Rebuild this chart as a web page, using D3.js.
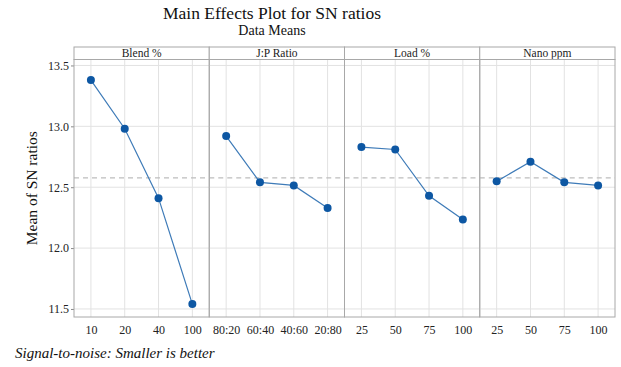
<!DOCTYPE html>
<html>
<head>
<meta charset="utf-8">
<script src="https://cdn.jsdelivr.net/npm/d3@7"></script>
<style>
  html, body { margin: 0; padding: 0; background: #fff; }
  svg { display: block; }
  svg text { font-family: "Liberation Serif", "DejaVu Serif", serif; }
</style>
</head>
<body>
<svg id="chart" width="621" height="367"></svg>
<script>
/* Minitab-style main effects plot for SN ratios, one panel per factor. */
const factors = ["Blend %", "J:P Ratio", "Load %", "Nano ppm"];
const levels = [
  ["10", "20", "40", "100"],
  ["80:20", "60:40", "40:60", "20:80"],
  ["25", "50", "75", "100"],
  ["25", "50", "75", "100"],
];
const snMeans = [
  [13.38, 12.98, 12.41, 11.54],
  [12.92, 12.54, 12.515, 12.33],
  [12.83, 12.81, 12.43, 12.235],
  [12.548, 12.71, 12.54, 12.515],
];
const grandMean = 12.576;
const yTicks = [11.5, 12.0, 12.5, 13.0, 13.5];

const svg = d3.select("#chart");
const padL = 74, padR = 615, stripTop = 47, stripH = 12.5, plotBottom = 317;
const plotTop = stripTop + stripH;
const panelW = (padR - padL) / factors.length;

const y = d3.scaleLinear().domain([11.434, 13.549]).range([plotBottom, plotTop]);

// titles
svg.append("text").attr("x", 272).attr("y", 19).attr("text-anchor", "middle")
  .attr("font-size", 17.5).attr("fill", "#111").text("Main Effects Plot for SN ratios");
svg.append("text").attr("x", 272).attr("y", 35).attr("text-anchor", "middle")
  .attr("font-size", 14).attr("fill", "#111").text("Data Means");

// y axis
const yAxis = svg.append("g").attr("transform", `translate(${padL},0)`)
  .call(d3.axisLeft(y).tickValues(yTicks).tickFormat(d3.format(".1f")).tickSize(3).tickPadding(2));
yAxis.select(".domain").remove();
yAxis.selectAll("line").attr("stroke", "#888");
yAxis.selectAll("text").attr("font-size", 12).attr("fill", "#222");

svg.append("text")
  .attr("transform", `translate(37,${(plotTop + plotBottom) / 2}) rotate(-90)`)
  .attr("text-anchor", "middle").attr("font-size", 15.5).attr("fill", "#111")
  .text("Mean of SN ratios");

factors.forEach((name, i) => {
  const x0 = padL + i * panelW;
  const x = d3.scalePoint().domain(levels[i]).range([x0, x0 + panelW]).padding(0.5);
  const g = svg.append("g");

  // gridlines
  g.selectAll("line.vg").data(levels[i]).join("line")
    .attr("x1", (d) => x(d)).attr("x2", (d) => x(d))
    .attr("y1", plotTop).attr("y2", plotBottom)
    .attr("stroke", "#e2e2e2").attr("stroke-width", 1);
  g.selectAll("line.hg").data(yTicks).join("line")
    .attr("x1", x0).attr("x2", x0 + panelW)
    .attr("y1", (d) => y(d)).attr("y2", (d) => y(d))
    .attr("stroke", "#e2e2e2").attr("stroke-width", 1);

  // grand mean reference
  g.append("line").attr("x1", x0).attr("x2", x0 + panelW)
    .attr("y1", y(grandMean)).attr("y2", y(grandMean))
    .attr("stroke", "#bdbdbd").attr("stroke-width", 1.2).attr("stroke-dasharray", "5,4");

  const pts = levels[i].map((lv, j) => ({ lv, v: snMeans[i][j] }));
  g.append("path").datum(pts)
    .attr("fill", "none").attr("stroke", "#3e7bb8").attr("stroke-width", 1.2)
    .attr("d", d3.line().x((d) => x(d.lv)).y((d) => y(d.v)));
  g.selectAll("circle").data(pts).join("circle")
    .attr("cx", (d) => x(d.lv)).attr("cy", (d) => y(d.v)).attr("r", 4)
    .attr("fill", "#0d57a3");

  // strip + panel frame
  g.append("rect").attr("x", x0).attr("y", stripTop).attr("width", panelW).attr("height", stripH)
    .attr("fill", "#fff").attr("stroke", "#a8a8a8");
  g.append("text").attr("x", x0 + panelW / 2).attr("y", stripTop + 10)
    .attr("text-anchor", "middle").attr("font-size", 11.5).attr("fill", "#222").text(name);
  g.append("rect").attr("x", x0).attr("y", plotTop).attr("width", panelW).attr("height", plotBottom - plotTop)
    .attr("fill", "none").attr("stroke", "#a8a8a8");

  const xa = svg.append("g").attr("transform", `translate(0,${plotBottom})`)
    .call(d3.axisBottom(x).tickSize(0).tickPadding(8));
  xa.select(".domain").remove();
  xa.selectAll("text").attr("font-size", 12).attr("fill", "#222");
});

svg.append("text").attr("x", 15).attr("y", 358).attr("font-size", 15)
  .attr("font-style", "italic").attr("fill", "#111").text("Signal-to-noise: Smaller is better");
</script>
</body>
</html>
